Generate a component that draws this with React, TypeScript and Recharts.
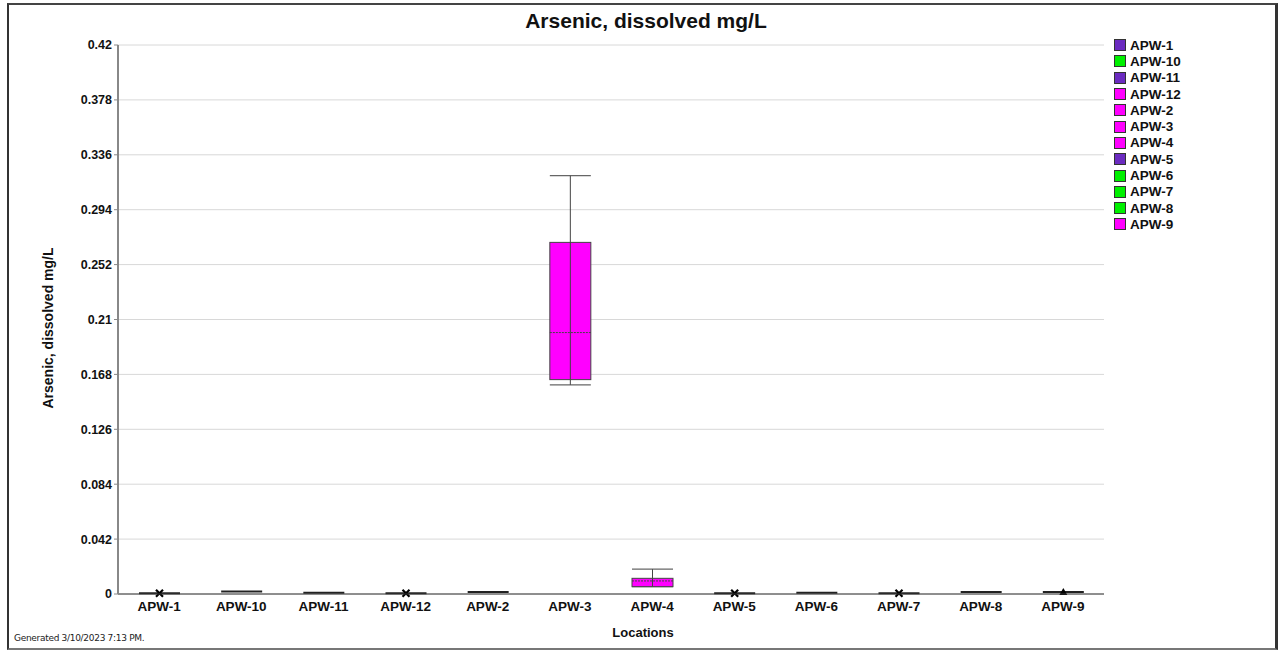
import { ComposedChart, Bar, XAxis, YAxis, CartesianGrid } from "recharts";

const locations = ["APW-1", "APW-10", "APW-11", "APW-12", "APW-2", "APW-3", "APW-4", "APW-5", "APW-6", "APW-7", "APW-8", "APW-9"];
const whiskerLow = [0.0005, 0.002, 0.001, 0.0005, 0.0015, 0.16, 0.0056, 0.0005, 0.001, 0.0005, 0.0015, 0.0015];
const q1 = [0.0005, 0.002, 0.001, 0.0005, 0.0015, 0.164, 0.0056, 0.0005, 0.001, 0.0005, 0.0015, 0.0015];
const median = [0.0005, 0.002, 0.001, 0.0005, 0.0015, 0.2, 0.01, 0.0005, 0.001, 0.0005, 0.0015, 0.0015];
const q3 = [0.0005, 0.002, 0.001, 0.0005, 0.0015, 0.269, 0.012, 0.0005, 0.001, 0.0005, 0.0015, 0.0015];
const whiskerHigh = [0.0005, 0.002, 0.001, 0.0005, 0.0015, 0.32, 0.019, 0.0005, 0.001, 0.0005, 0.0015, 0.0015];
const markerType = ["x", "", "", "x", "", "", "", "x", "", "x", "", "tri"];
const boxColors = ["#6b2bc0", "#00f000", "#6b2bc0", "#ff00ff", "#ff00ff", "#ff00ff", "#ff00ff", "#6b2bc0", "#00f000", "#00f000", "#00f000", "#ff00ff"];
const yTicks = [0, 0.042, 0.084, 0.126, 0.168, 0.21, 0.252, 0.294, 0.336, 0.378, 0.42];

const data = locations.map((name, i) => ({
  name,
  lo: whiskerLow[i],
  q1: q1[i],
  med: median[i],
  q3: q3[i],
  hi: whiskerHigh[i],
  mark: markerType[i],
  color: boxColors[i],
}));

const FONT = "'Liberation Sans', Arial, sans-serif";

// eslint-disable-next-line @typescript-eslint/no-explicit-any
function BoxShape(props: any) {
  const { x, y, width, height, payload } = props;
  const { lo, hi, q1, q3, med, mark, color } = payload;
  const toY = (v: number) => (hi === lo ? y : y + ((hi - v) / (hi - lo)) * height);
  const cx = x + width / 2;
  const yHi = toY(hi);
  const yLo = toY(lo);
  const yQ1 = toY(q1);
  const yQ3 = toY(q3);
  const yMed = toY(med);
  const flat = hi === lo;
  return (
    <g>
      {flat ? (
        <line x1={x} x2={x + width} y1={yHi} y2={yHi} stroke="#222" strokeWidth={2} />
      ) : (
        <>
          <line x1={x} x2={x + width} y1={yHi} y2={yHi} stroke="#666" strokeWidth={1.2} />
          <line x1={x} x2={x + width} y1={yLo} y2={yLo} stroke="#666" strokeWidth={1.2} />
          <rect x={x} y={yQ3} width={width} height={Math.max(yQ1 - yQ3, 1.5)} fill={color} stroke="#444" strokeWidth={1} />
          <line x1={cx} x2={cx} y1={yHi} y2={yLo} stroke="#444" strokeWidth={1} />
          <line x1={x} x2={x + width} y1={yMed} y2={yMed} stroke="#444" strokeWidth={1} strokeDasharray="2 1" />
        </>
      )}
      {mark === "x" && (
        <g stroke="#000" strokeWidth={2.2}>
          <line x1={cx - 3.5} x2={cx + 3.5} y1={yHi - 3.5} y2={yHi + 3.5} />
          <line x1={cx - 3.5} x2={cx + 3.5} y1={yHi + 3.5} y2={yHi - 3.5} />
        </g>
      )}
      {mark === "tri" && (
        <polygon points={`${cx},${yHi - 4} ${cx - 4},${yHi + 3} ${cx + 4},${yHi + 3}`} fill="#000" />
      )}
    </g>
  );
}

export default function App() {
  const yTickStyle = { fontSize: 12.5, fontWeight: 700, fill: "#111", fontFamily: FONT };
  const xTickStyle = { fontSize: 13.5, fontWeight: 700, fill: "#111", fontFamily: FONT };
  return (
    <div style={{ position: "absolute", left: 0, top: 0, width: 1278, height: 650, background: "#fff", fontFamily: FONT }}>
      <div
        style={{
          position: "absolute",
          left: 7,
          top: 3,
          width: 1266,
          height: 643,
          borderLeft: "2px solid #333",
          borderTop: "2px solid #444",
          borderRight: "3px solid #333",
          borderBottom: "2px solid #777",
        }}
      />
      <div style={{ position: "absolute", left: 0, width: 1292, top: 9, textAlign: "center", fontSize: 21, fontWeight: 700, color: "#111" }}>
        Arsenic, dissolved mg/L
      </div>
      <div
        style={{
          position: "absolute",
          left: 48,
          top: 328,
          transform: "translate(-50%, -50%) rotate(-90deg)",
          whiteSpace: "nowrap",
          fontSize: 14,
          fontWeight: 700,
          color: "#111",
        }}
      >
        Arsenic, dissolved mg/L
      </div>
      <div style={{ position: "absolute", left: 0, width: 1286, top: 625, textAlign: "center", fontSize: 13, fontWeight: 700, color: "#111" }}>
        Locations
      </div>
      <div style={{ position: "absolute", left: 14, top: 633, fontSize: 9, color: "#222", fontFamily: "'DejaVu Sans', sans-serif", letterSpacing: -0.3 }}>
        Generated 3/10/2023 7:13 PM.
      </div>
      <div style={{ position: "absolute", left: 1114, top: 37 }}>
        {locations.map((name, i) => (
          <div key={name} style={{ display: "flex", alignItems: "center", height: 16.3 }}>
            <div style={{ width: 10, height: 10, background: boxColors[i], border: "1px solid #333", marginRight: 4 }} />
            <span style={{ fontSize: 13.5, fontWeight: 700, color: "#111" }}>{name}</span>
          </div>
        ))}
      </div>
      <div style={{ position: "absolute", left: 0, top: 0 }}>
        <ComposedChart width={1278} height={650} data={data} margin={{ top: 45, right: 174, bottom: 26, left: 58 }}>
          <CartesianGrid vertical={false} stroke="#d8d8d8" strokeWidth={1} />
          <XAxis
            dataKey="name"
            interval={0}
            height={30}
            tick={xTickStyle}
            tickLine={false}
            axisLine={{ stroke: "#333", strokeWidth: 1.2 }}
            tickMargin={1}
          />
          <YAxis
            domain={[0, 0.42]}
            ticks={yTicks}
            width={60}
            tick={yTickStyle}
            tickSize={4}
            tickLine={{ stroke: "#888" }}
            axisLine={{ stroke: "#888", strokeWidth: 2 }}
            interval={0}
          />
          <Bar
            dataKey={(d: { lo: number; hi: number }) => [d.lo, d.hi]}
            barSize={41}
            shape={BoxShape}
            isAnimationActive={false}
          />
        </ComposedChart>
      </div>
    </div>
  );
}
